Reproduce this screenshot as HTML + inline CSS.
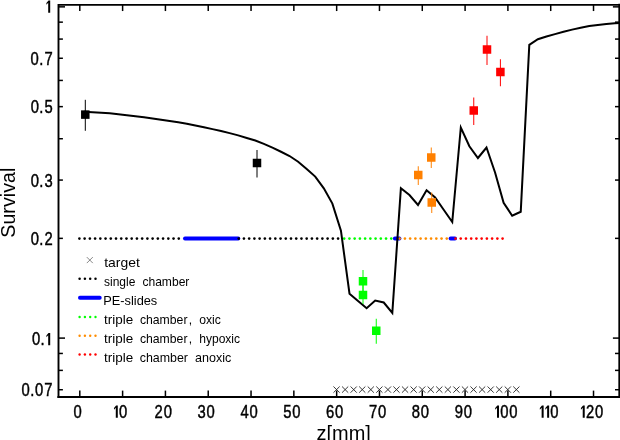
<!DOCTYPE html><html><head><meta charset="utf-8"><style>html,body{margin:0;padding:0;background:#fff;width:620px;height:440px;overflow:hidden}</style></head><body><svg width="620" height="440" viewBox="0 0 620 440" style="display:block;position:absolute;left:0;top:0;will-change:transform" font-family="Liberation Sans, sans-serif">
<rect width="620" height="440" fill="#fff"/>
<circle cx="79.40" cy="238.6" r="1.3" fill="#000"/><circle cx="84.63" cy="238.6" r="1.3" fill="#000"/><circle cx="89.86" cy="238.6" r="1.3" fill="#000"/><circle cx="95.09" cy="238.6" r="1.3" fill="#000"/><circle cx="100.32" cy="238.6" r="1.3" fill="#000"/><circle cx="105.55" cy="238.6" r="1.3" fill="#000"/><circle cx="110.78" cy="238.6" r="1.3" fill="#000"/><circle cx="116.01" cy="238.6" r="1.3" fill="#000"/><circle cx="121.24" cy="238.6" r="1.3" fill="#000"/><circle cx="126.47" cy="238.6" r="1.3" fill="#000"/><circle cx="131.70" cy="238.6" r="1.3" fill="#000"/><circle cx="136.93" cy="238.6" r="1.3" fill="#000"/><circle cx="142.16" cy="238.6" r="1.3" fill="#000"/><circle cx="147.39" cy="238.6" r="1.3" fill="#000"/><circle cx="152.62" cy="238.6" r="1.3" fill="#000"/><circle cx="157.85" cy="238.6" r="1.3" fill="#000"/><circle cx="163.08" cy="238.6" r="1.3" fill="#000"/><circle cx="168.31" cy="238.6" r="1.3" fill="#000"/><circle cx="173.54" cy="238.6" r="1.3" fill="#000"/><circle cx="178.77" cy="238.6" r="1.3" fill="#000"/>
<line x1="185" y1="238.6" x2="238.3" y2="238.6" stroke="#0000ff" stroke-width="4" stroke-linecap="round"/>
<circle cx="238.70" cy="238.6" r="1.3" fill="#000"/><circle cx="243.93" cy="238.6" r="1.3" fill="#000"/><circle cx="249.16" cy="238.6" r="1.3" fill="#000"/><circle cx="254.39" cy="238.6" r="1.3" fill="#000"/><circle cx="259.62" cy="238.6" r="1.3" fill="#000"/><circle cx="264.85" cy="238.6" r="1.3" fill="#000"/><circle cx="270.08" cy="238.6" r="1.3" fill="#000"/><circle cx="275.31" cy="238.6" r="1.3" fill="#000"/><circle cx="280.54" cy="238.6" r="1.3" fill="#000"/><circle cx="285.77" cy="238.6" r="1.3" fill="#000"/><circle cx="291.00" cy="238.6" r="1.3" fill="#000"/><circle cx="296.23" cy="238.6" r="1.3" fill="#000"/><circle cx="301.46" cy="238.6" r="1.3" fill="#000"/><circle cx="306.69" cy="238.6" r="1.3" fill="#000"/><circle cx="311.92" cy="238.6" r="1.3" fill="#000"/><circle cx="317.15" cy="238.6" r="1.3" fill="#000"/><circle cx="322.38" cy="238.6" r="1.3" fill="#000"/><circle cx="327.61" cy="238.6" r="1.3" fill="#000"/><circle cx="332.84" cy="238.6" r="1.3" fill="#000"/><circle cx="338.07" cy="238.6" r="1.3" fill="#000"/>
<circle cx="344.20" cy="238.6" r="1.3" fill="#00ff00"/><circle cx="349.43" cy="238.6" r="1.3" fill="#00ff00"/><circle cx="354.66" cy="238.6" r="1.3" fill="#00ff00"/><circle cx="359.89" cy="238.6" r="1.3" fill="#00ff00"/><circle cx="365.12" cy="238.6" r="1.3" fill="#00ff00"/><circle cx="370.35" cy="238.6" r="1.3" fill="#00ff00"/><circle cx="375.58" cy="238.6" r="1.3" fill="#00ff00"/><circle cx="380.81" cy="238.6" r="1.3" fill="#00ff00"/><circle cx="386.04" cy="238.6" r="1.3" fill="#00ff00"/><circle cx="391.27" cy="238.6" r="1.3" fill="#00ff00"/>
<line x1="394.9" y1="238.6" x2="399.4" y2="238.6" stroke="#0000ff" stroke-width="4" stroke-linecap="round"/>
<circle cx="399.70" cy="238.6" r="1.3" fill="#ff8c00"/><circle cx="404.93" cy="238.6" r="1.3" fill="#ff8c00"/><circle cx="410.16" cy="238.6" r="1.3" fill="#ff8c00"/><circle cx="415.39" cy="238.6" r="1.3" fill="#ff8c00"/><circle cx="420.62" cy="238.6" r="1.3" fill="#ff8c00"/><circle cx="425.85" cy="238.6" r="1.3" fill="#ff8c00"/><circle cx="431.08" cy="238.6" r="1.3" fill="#ff8c00"/><circle cx="436.31" cy="238.6" r="1.3" fill="#ff8c00"/><circle cx="441.54" cy="238.6" r="1.3" fill="#ff8c00"/><circle cx="446.77" cy="238.6" r="1.3" fill="#ff8c00"/>
<line x1="450.6" y1="238.6" x2="455.0" y2="238.6" stroke="#0000ff" stroke-width="4" stroke-linecap="round"/>
<circle cx="455.50" cy="238.6" r="1.3" fill="#ff0000"/><circle cx="460.73" cy="238.6" r="1.3" fill="#ff0000"/><circle cx="465.96" cy="238.6" r="1.3" fill="#ff0000"/><circle cx="471.19" cy="238.6" r="1.3" fill="#ff0000"/><circle cx="476.42" cy="238.6" r="1.3" fill="#ff0000"/><circle cx="481.65" cy="238.6" r="1.3" fill="#ff0000"/><circle cx="486.88" cy="238.6" r="1.3" fill="#ff0000"/><circle cx="492.11" cy="238.6" r="1.3" fill="#ff0000"/><circle cx="497.34" cy="238.6" r="1.3" fill="#ff0000"/><circle cx="502.57" cy="238.6" r="1.3" fill="#ff0000"/>
<path d="M333.46 386.50L339.66 392.70M333.46 392.70L339.66 386.50" stroke="#222" stroke-width="0.9" fill="none"/>
<path d="M342.02 386.50L348.22 392.70M342.02 392.70L348.22 386.50" stroke="#222" stroke-width="0.9" fill="none"/>
<path d="M350.58 386.50L356.78 392.70M350.58 392.70L356.78 386.50" stroke="#222" stroke-width="0.9" fill="none"/>
<path d="M359.15 386.50L365.35 392.70M359.15 392.70L365.35 386.50" stroke="#222" stroke-width="0.9" fill="none"/>
<path d="M367.71 386.50L373.91 392.70M367.71 392.70L373.91 386.50" stroke="#222" stroke-width="0.9" fill="none"/>
<path d="M376.27 386.50L382.47 392.70M376.27 392.70L382.47 386.50" stroke="#222" stroke-width="0.9" fill="none"/>
<path d="M384.83 386.50L391.03 392.70M384.83 392.70L391.03 386.50" stroke="#222" stroke-width="0.9" fill="none"/>
<path d="M393.39 386.50L399.59 392.70M393.39 392.70L399.59 386.50" stroke="#222" stroke-width="0.9" fill="none"/>
<path d="M401.96 386.50L408.16 392.70M401.96 392.70L408.16 386.50" stroke="#222" stroke-width="0.9" fill="none"/>
<path d="M410.52 386.50L416.72 392.70M410.52 392.70L416.72 386.50" stroke="#222" stroke-width="0.9" fill="none"/>
<path d="M419.08 386.50L425.28 392.70M419.08 392.70L425.28 386.50" stroke="#222" stroke-width="0.9" fill="none"/>
<path d="M427.64 386.50L433.84 392.70M427.64 392.70L433.84 386.50" stroke="#222" stroke-width="0.9" fill="none"/>
<path d="M436.20 386.50L442.40 392.70M436.20 392.70L442.40 386.50" stroke="#222" stroke-width="0.9" fill="none"/>
<path d="M444.77 386.50L450.97 392.70M444.77 392.70L450.97 386.50" stroke="#222" stroke-width="0.9" fill="none"/>
<path d="M453.33 386.50L459.53 392.70M453.33 392.70L459.53 386.50" stroke="#222" stroke-width="0.9" fill="none"/>
<path d="M461.89 386.50L468.09 392.70M461.89 392.70L468.09 386.50" stroke="#222" stroke-width="0.9" fill="none"/>
<path d="M470.45 386.50L476.65 392.70M470.45 392.70L476.65 386.50" stroke="#222" stroke-width="0.9" fill="none"/>
<path d="M479.01 386.50L485.21 392.70M479.01 392.70L485.21 386.50" stroke="#222" stroke-width="0.9" fill="none"/>
<path d="M487.58 386.50L493.78 392.70M487.58 392.70L493.78 386.50" stroke="#222" stroke-width="0.9" fill="none"/>
<path d="M496.14 386.50L502.34 392.70M496.14 392.70L502.34 386.50" stroke="#222" stroke-width="0.9" fill="none"/>
<path d="M504.70 386.50L510.90 392.70M504.70 392.70L510.90 386.50" stroke="#222" stroke-width="0.9" fill="none"/>
<path d="M513.26 386.50L519.46 392.70M513.26 392.70L519.46 386.50" stroke="#222" stroke-width="0.9" fill="none"/>
<polyline fill="none" stroke="#000" stroke-width="2" stroke-linejoin="miter" points="84.08,111.81 92.64,112.33 101.2,112.8 109.77,113.3 118.33,114.27 126.89,115.23 135.45,116.19 144.01,117.16 152.58,118.42 161.14,119.69 169.7,120.96 178.26,122.32 186.82,123.75 195.39,125.55 203.95,127.34 212.51,129.13 221.07,130.97 229.63,133.15 238.2,135.35 246.76,137.95 255.32,140.55 263.88,143.86 272.44,147.61 281.01,151.75 289.57,156.03 298.13,161.74 306.69,168.91 315.25,176.6 323.82,188.37 332.38,203.59 340.94,230.74 349.5,293.75 358.06,301 366.63,308.25 375.19,300.5 383.75,302.5 392.31,313 400.88,188.25 409.44,195 418.0,205 426.56,190.25 435.12,197.5 443.69,209.7 452.25,222 460.81,127.5 469.37,146.25 477.93,158 486.5,147.5 495.06,172.5 503.62,202.75 512.18,215.75 520.74,211.75 529.3,44.9 537.87,39.2 546.43,36.5 554.99,34.1 563.55,31.8 572.11,29.6 580.68,27.7 589.24,26.1 597.8,24.9 606.36,24.0 614.92,23.3 619.63,23.0"/>
<line x1="85.3" y1="99.8" x2="85.3" y2="130.8" stroke="#000" stroke-width="1"/><rect x="81.05" y="110.35" width="8.5" height="8.5" fill="#000"/>
<line x1="257" y1="150" x2="257" y2="177.5" stroke="#000" stroke-width="1"/><rect x="252.75" y="158.75" width="8.5" height="8.5" fill="#000"/>
<line x1="363" y1="270" x2="363" y2="292" stroke="#00ff00" stroke-width="1"/><rect x="358.75" y="277.00" width="8.5" height="8.5" fill="#00ff00"/>
<line x1="363" y1="284" x2="363" y2="304" stroke="#00ff00" stroke-width="1"/><rect x="358.75" y="290.75" width="8.5" height="8.5" fill="#00ff00"/>
<line x1="376.25" y1="318.75" x2="376.25" y2="343.75" stroke="#00ff00" stroke-width="1"/><rect x="372.00" y="326.50" width="8.5" height="8.5" fill="#00ff00"/>
<line x1="418.25" y1="166.25" x2="418.25" y2="185" stroke="#ff8000" stroke-width="1"/><rect x="414.00" y="170.75" width="8.5" height="8.5" fill="#ff8000"/>
<line x1="431.25" y1="147.5" x2="431.25" y2="168" stroke="#ff8000" stroke-width="1"/><rect x="427.00" y="153.25" width="8.5" height="8.5" fill="#ff8000"/>
<line x1="431.75" y1="192.5" x2="431.75" y2="213" stroke="#ff8000" stroke-width="1"/><rect x="427.50" y="198.25" width="8.5" height="8.5" fill="#ff8000"/>
<line x1="473.75" y1="97.5" x2="473.75" y2="125" stroke="#ff0000" stroke-width="1"/><rect x="469.50" y="106.25" width="8.5" height="8.5" fill="#ff0000"/>
<line x1="487" y1="35.75" x2="487" y2="65" stroke="#ff0000" stroke-width="1"/><rect x="482.75" y="45.25" width="8.5" height="8.5" fill="#ff0000"/>
<line x1="500.4" y1="59.25" x2="500.4" y2="86.25" stroke="#ff0000" stroke-width="1"/><rect x="496.15" y="67.75" width="8.5" height="8.5" fill="#ff0000"/>
<path d="M58.5 397.0V4.85H619.4" fill="none" stroke="#000" stroke-width="1.9" stroke-linecap="square"/>
<path d="M58.5 397.0H619.4V4.85" fill="none" stroke="#000" stroke-width="2.1" stroke-linecap="square"/>
<line x1="79.80" y1="397.0" x2="79.80" y2="390.6" stroke="#000" stroke-width="1.5"/>
<line x1="79.80" y1="4.85" x2="79.80" y2="11.05" stroke="#000" stroke-width="1.5"/>
<text transform="translate(73.49,417.75) scale(0.845,1)" font-size="17.5" stroke="#000" stroke-width="0.45">0</text>
<line x1="122.61" y1="397.0" x2="122.61" y2="390.6" stroke="#000" stroke-width="1.5"/>
<line x1="122.61" y1="4.85" x2="122.61" y2="11.05" stroke="#000" stroke-width="1.5"/>
<path d="M115.79 417.75H117.79V405.45H116.09L113.99 407.95V409.85L115.79 407.75Z" fill="#000"/><text transform="translate(119.01,417.75) scale(0.845,1)" font-size="17.5" stroke="#000" stroke-width="0.45">0</text>
<line x1="165.42" y1="397.0" x2="165.42" y2="390.6" stroke="#000" stroke-width="1.5"/>
<line x1="165.42" y1="4.85" x2="165.42" y2="11.05" stroke="#000" stroke-width="1.5"/>
<text transform="translate(154.60,417.75) scale(0.845,1)" font-size="17.5" stroke="#000" stroke-width="0.45">2</text><text transform="translate(163.65,417.75) scale(0.845,1)" font-size="17.5" stroke="#000" stroke-width="0.45">0</text>
<line x1="208.23" y1="397.0" x2="208.23" y2="390.6" stroke="#000" stroke-width="1.5"/>
<line x1="208.23" y1="4.85" x2="208.23" y2="11.05" stroke="#000" stroke-width="1.5"/>
<text transform="translate(197.57,417.75) scale(0.845,1)" font-size="17.5" stroke="#000" stroke-width="0.45">3</text><text transform="translate(206.58,417.75) scale(0.845,1)" font-size="17.5" stroke="#000" stroke-width="0.45">0</text>
<line x1="251.04" y1="397.0" x2="251.04" y2="390.6" stroke="#000" stroke-width="1.5"/>
<line x1="251.04" y1="4.85" x2="251.04" y2="11.05" stroke="#000" stroke-width="1.5"/>
<text transform="translate(240.54,417.75) scale(0.845,1)" font-size="17.5" stroke="#000" stroke-width="0.45">4</text><text transform="translate(249.55,417.75) scale(0.845,1)" font-size="17.5" stroke="#000" stroke-width="0.45">0</text>
<line x1="293.85" y1="397.0" x2="293.85" y2="390.6" stroke="#000" stroke-width="1.5"/>
<line x1="293.85" y1="4.85" x2="293.85" y2="11.05" stroke="#000" stroke-width="1.5"/>
<text transform="translate(283.26,417.75) scale(0.845,1)" font-size="17.5" stroke="#000" stroke-width="0.45">5</text><text transform="translate(292.30,417.75) scale(0.845,1)" font-size="17.5" stroke="#000" stroke-width="0.45">0</text>
<line x1="336.66" y1="397.0" x2="336.66" y2="390.6" stroke="#000" stroke-width="1.5"/>
<line x1="336.66" y1="4.85" x2="336.66" y2="11.05" stroke="#000" stroke-width="1.5"/>
<text transform="translate(326.01,417.75) scale(0.845,1)" font-size="17.5" stroke="#000" stroke-width="0.45">6</text><text transform="translate(335.11,417.75) scale(0.845,1)" font-size="17.5" stroke="#000" stroke-width="0.45">0</text>
<line x1="379.47" y1="397.0" x2="379.47" y2="390.6" stroke="#000" stroke-width="1.5"/>
<line x1="379.47" y1="4.85" x2="379.47" y2="11.05" stroke="#000" stroke-width="1.5"/>
<text transform="translate(368.89,417.75) scale(0.845,1)" font-size="17.5" stroke="#000" stroke-width="0.45">7</text><text transform="translate(377.95,417.75) scale(0.845,1)" font-size="17.5" stroke="#000" stroke-width="0.45">0</text>
<line x1="422.28" y1="397.0" x2="422.28" y2="390.6" stroke="#000" stroke-width="1.5"/>
<line x1="422.28" y1="4.85" x2="422.28" y2="11.05" stroke="#000" stroke-width="1.5"/>
<text transform="translate(411.81,417.75) scale(0.845,1)" font-size="17.5" stroke="#000" stroke-width="0.45">8</text><text transform="translate(420.86,417.75) scale(0.845,1)" font-size="17.5" stroke="#000" stroke-width="0.45">0</text>
<line x1="465.09" y1="397.0" x2="465.09" y2="390.6" stroke="#000" stroke-width="1.5"/>
<line x1="465.09" y1="4.85" x2="465.09" y2="11.05" stroke="#000" stroke-width="1.5"/>
<text transform="translate(454.64,417.75) scale(0.845,1)" font-size="17.5" stroke="#000" stroke-width="0.45">9</text><text transform="translate(463.69,417.75) scale(0.845,1)" font-size="17.5" stroke="#000" stroke-width="0.45">0</text>
<line x1="507.90" y1="397.0" x2="507.90" y2="390.6" stroke="#000" stroke-width="1.5"/>
<line x1="507.90" y1="4.85" x2="507.90" y2="11.05" stroke="#000" stroke-width="1.5"/>
<path d="M497.01 417.75H499.01V405.45H497.31L495.21 407.95V409.85L497.01 407.75Z" fill="#000"/><text transform="translate(500.22,417.75) scale(0.845,1)" font-size="17.5" stroke="#000" stroke-width="0.45">0</text><text transform="translate(509.27,417.75) scale(0.845,1)" font-size="17.5" stroke="#000" stroke-width="0.45">0</text>
<line x1="550.71" y1="397.0" x2="550.71" y2="390.6" stroke="#000" stroke-width="1.5"/>
<line x1="550.71" y1="4.85" x2="550.71" y2="11.05" stroke="#000" stroke-width="1.5"/>
<path d="M541.64 417.75H543.64V405.45H541.94L539.84 407.95V409.85L541.64 407.75Z" fill="#000"/><path d="M547.14 417.75H549.14V405.45H547.44L545.34 407.95V409.85L547.14 407.75Z" fill="#000"/><text transform="translate(550.36,417.75) scale(0.845,1)" font-size="17.5" stroke="#000" stroke-width="0.45">0</text>
<line x1="593.52" y1="397.0" x2="593.52" y2="390.6" stroke="#000" stroke-width="1.5"/>
<line x1="593.52" y1="4.85" x2="593.52" y2="11.05" stroke="#000" stroke-width="1.5"/>
<path d="M582.73 417.75H584.73V405.45H583.03L580.93 407.95V409.85L582.73 407.75Z" fill="#000"/><text transform="translate(585.94,417.75) scale(0.845,1)" font-size="17.5" stroke="#000" stroke-width="0.45">2</text><text transform="translate(594.99,417.75) scale(0.845,1)" font-size="17.5" stroke="#000" stroke-width="0.45">0</text>
<line x1="58.5" y1="6.85" x2="65.00" y2="6.85" stroke="#000" stroke-width="1.5"/>
<line x1="619.4" y1="6.85" x2="612.90" y2="6.85" stroke="#000" stroke-width="1.5"/>
<line x1="58.5" y1="338.10" x2="65.00" y2="338.10" stroke="#000" stroke-width="1.5"/>
<line x1="619.4" y1="338.10" x2="612.90" y2="338.10" stroke="#000" stroke-width="1.5"/>
<line x1="58.5" y1="389.72" x2="62.90" y2="389.72" stroke="#000" stroke-width="1.5"/>
<line x1="619.4" y1="389.72" x2="615.00" y2="389.72" stroke="#000" stroke-width="1.5"/>
<line x1="58.5" y1="370.38" x2="62.90" y2="370.38" stroke="#000" stroke-width="1.5"/>
<line x1="619.4" y1="370.38" x2="615.00" y2="370.38" stroke="#000" stroke-width="1.5"/>
<line x1="58.5" y1="353.45" x2="62.90" y2="353.45" stroke="#000" stroke-width="1.5"/>
<line x1="619.4" y1="353.45" x2="615.00" y2="353.45" stroke="#000" stroke-width="1.5"/>
<line x1="58.5" y1="238.36" x2="62.90" y2="238.36" stroke="#000" stroke-width="1.5"/>
<line x1="619.4" y1="238.36" x2="615.00" y2="238.36" stroke="#000" stroke-width="1.5"/>
<line x1="58.5" y1="180.07" x2="62.90" y2="180.07" stroke="#000" stroke-width="1.5"/>
<line x1="619.4" y1="180.07" x2="615.00" y2="180.07" stroke="#000" stroke-width="1.5"/>
<line x1="58.5" y1="138.72" x2="62.90" y2="138.72" stroke="#000" stroke-width="1.5"/>
<line x1="619.4" y1="138.72" x2="615.00" y2="138.72" stroke="#000" stroke-width="1.5"/>
<line x1="58.5" y1="106.64" x2="62.90" y2="106.64" stroke="#000" stroke-width="1.5"/>
<line x1="619.4" y1="106.64" x2="615.00" y2="106.64" stroke="#000" stroke-width="1.5"/>
<line x1="58.5" y1="80.43" x2="62.90" y2="80.43" stroke="#000" stroke-width="1.5"/>
<line x1="619.4" y1="80.43" x2="615.00" y2="80.43" stroke="#000" stroke-width="1.5"/>
<line x1="58.5" y1="58.27" x2="62.90" y2="58.27" stroke="#000" stroke-width="1.5"/>
<line x1="619.4" y1="58.27" x2="615.00" y2="58.27" stroke="#000" stroke-width="1.5"/>
<line x1="58.5" y1="39.08" x2="62.90" y2="39.08" stroke="#000" stroke-width="1.5"/>
<line x1="619.4" y1="39.08" x2="615.00" y2="39.08" stroke="#000" stroke-width="1.5"/>
<line x1="58.5" y1="22.15" x2="62.90" y2="22.15" stroke="#000" stroke-width="1.5"/>
<line x1="619.4" y1="22.15" x2="615.00" y2="22.15" stroke="#000" stroke-width="1.5"/>
<path d="M48.20 12.75H50.20V0.45H48.50L46.40 2.95V4.85L48.20 2.75Z" fill="#000"/>
<text transform="translate(30.60,64.67) scale(0.845,1)" font-size="17.5" stroke="#000" stroke-width="0.45">0</text><text transform="translate(39.13,64.67) scale(0.845,1)" font-size="17.5" stroke="#000" stroke-width="0.45">.</text><text transform="translate(44.49,64.67) scale(0.845,1)" font-size="17.5" stroke="#000" stroke-width="0.45">7</text>
<text transform="translate(30.66,113.34) scale(0.845,1)" font-size="17.5" stroke="#000" stroke-width="0.45">0</text><text transform="translate(39.19,113.34) scale(0.845,1)" font-size="17.5" stroke="#000" stroke-width="0.45">.</text><text transform="translate(44.57,113.34) scale(0.845,1)" font-size="17.5" stroke="#000" stroke-width="0.45">5</text>
<text transform="translate(30.66,187.27) scale(0.845,1)" font-size="17.5" stroke="#000" stroke-width="0.45">0</text><text transform="translate(39.19,187.27) scale(0.845,1)" font-size="17.5" stroke="#000" stroke-width="0.45">.</text><text transform="translate(44.60,187.27) scale(0.845,1)" font-size="17.5" stroke="#000" stroke-width="0.45">3</text>
<text transform="translate(30.69,244.86) scale(0.845,1)" font-size="17.5" stroke="#000" stroke-width="0.45">0</text><text transform="translate(39.22,244.86) scale(0.845,1)" font-size="17.5" stroke="#000" stroke-width="0.45">.</text><text transform="translate(44.59,244.86) scale(0.845,1)" font-size="17.5" stroke="#000" stroke-width="0.45">2</text>
<text transform="translate(32.01,345.20) scale(0.845,1)" font-size="17.5" stroke="#000" stroke-width="0.45">0</text><text transform="translate(40.54,345.20) scale(0.845,1)" font-size="17.5" stroke="#000" stroke-width="0.45">.</text><path d="M48.20 345.20H50.20V332.90H48.50L46.40 335.40V337.30L48.20 335.20Z" fill="#000"/>
<text transform="translate(21.60,395.67) scale(0.845,1)" font-size="17.5" stroke="#000" stroke-width="0.45">0</text><text transform="translate(30.13,395.67) scale(0.845,1)" font-size="17.5" stroke="#000" stroke-width="0.45">.</text><text transform="translate(35.10,395.67) scale(0.845,1)" font-size="17.5" stroke="#000" stroke-width="0.45">0</text><text transform="translate(44.14,395.67) scale(0.845,1)" font-size="17.5" stroke="#000" stroke-width="0.45">7</text>
<text transform="translate(14.5,237.7) rotate(-90)" font-size="19.6" textLength="70">Survival</text>
<text x="316.6" y="439.7" font-size="19.5" textLength="54.3" lengthAdjust="spacingAndGlyphs">z[mm]</text>
<path d="M86.80 257.10L92.80 263.10M86.80 263.10L92.80 257.10" stroke="#555" stroke-width="0.7" fill="none"/>
<circle cx="79.60" cy="278.8" r="1.25" fill="#000"/><circle cx="84.90" cy="278.8" r="1.25" fill="#000"/><circle cx="90.20" cy="278.8" r="1.25" fill="#000"/><circle cx="95.50" cy="278.8" r="1.25" fill="#000"/>
<line x1="79.9" y1="297.75" x2="99.8" y2="297.75" stroke="#0000ff" stroke-width="3.8" stroke-linecap="round"/>
<circle cx="79.60" cy="317.0" r="1.2" fill="#00ff00"/><circle cx="84.90" cy="317.0" r="1.2" fill="#00ff00"/><circle cx="90.20" cy="317.0" r="1.2" fill="#00ff00"/><circle cx="95.50" cy="317.0" r="1.2" fill="#00ff00"/>
<circle cx="79.60" cy="335.7" r="1.2" fill="#ff8c00"/><circle cx="84.90" cy="335.7" r="1.2" fill="#ff8c00"/><circle cx="90.20" cy="335.7" r="1.2" fill="#ff8c00"/><circle cx="95.50" cy="335.7" r="1.2" fill="#ff8c00"/>
<circle cx="79.60" cy="354.45" r="1.2" fill="#ff0000"/><circle cx="84.90" cy="354.45" r="1.2" fill="#ff0000"/><circle cx="90.20" cy="354.45" r="1.2" fill="#ff0000"/><circle cx="95.50" cy="354.45" r="1.2" fill="#ff0000"/>
<text x="104.20" y="266.6" font-size="12.1" textLength="35.60" lengthAdjust="spacingAndGlyphs">target</text>
<text x="104.00" y="285.7" font-size="12.1" textLength="31.40" lengthAdjust="spacingAndGlyphs">single</text>
<text x="142.40" y="285.7" font-size="12.1" textLength="47.00" lengthAdjust="spacingAndGlyphs">chamber</text>
<text x="103.20" y="304.7" font-size="12.1" textLength="54.10" lengthAdjust="spacingAndGlyphs">PE-slides</text>
<text x="104.00" y="323.6" font-size="12.1" textLength="29.20" lengthAdjust="spacingAndGlyphs">triple</text>
<text x="139.90" y="323.6" font-size="12.1" textLength="47.60" lengthAdjust="spacingAndGlyphs">chamber</text>
<text x="188.70" y="323.6" font-size="12.1">,</text>
<text x="199.20" y="323.6" font-size="12.1" textLength="21.70" lengthAdjust="spacingAndGlyphs">oxic</text>
<text x="104.00" y="342.6" font-size="12.1" textLength="29.20" lengthAdjust="spacingAndGlyphs">triple</text>
<text x="139.90" y="342.6" font-size="12.1" textLength="47.60" lengthAdjust="spacingAndGlyphs">chamber</text>
<text x="188.70" y="342.6" font-size="12.1">,</text>
<text x="199.20" y="342.6" font-size="12.1" textLength="40.90" lengthAdjust="spacingAndGlyphs">hypoxic</text>
<text x="104.00" y="361.7" font-size="12.1" textLength="29.20" lengthAdjust="spacingAndGlyphs">triple</text>
<text x="139.70" y="361.7" font-size="12.1" textLength="48.30" lengthAdjust="spacingAndGlyphs">chamber</text>
<text x="195.00" y="361.7" font-size="12.1" textLength="36.30" lengthAdjust="spacingAndGlyphs">anoxic</text>
</svg></body></html>
